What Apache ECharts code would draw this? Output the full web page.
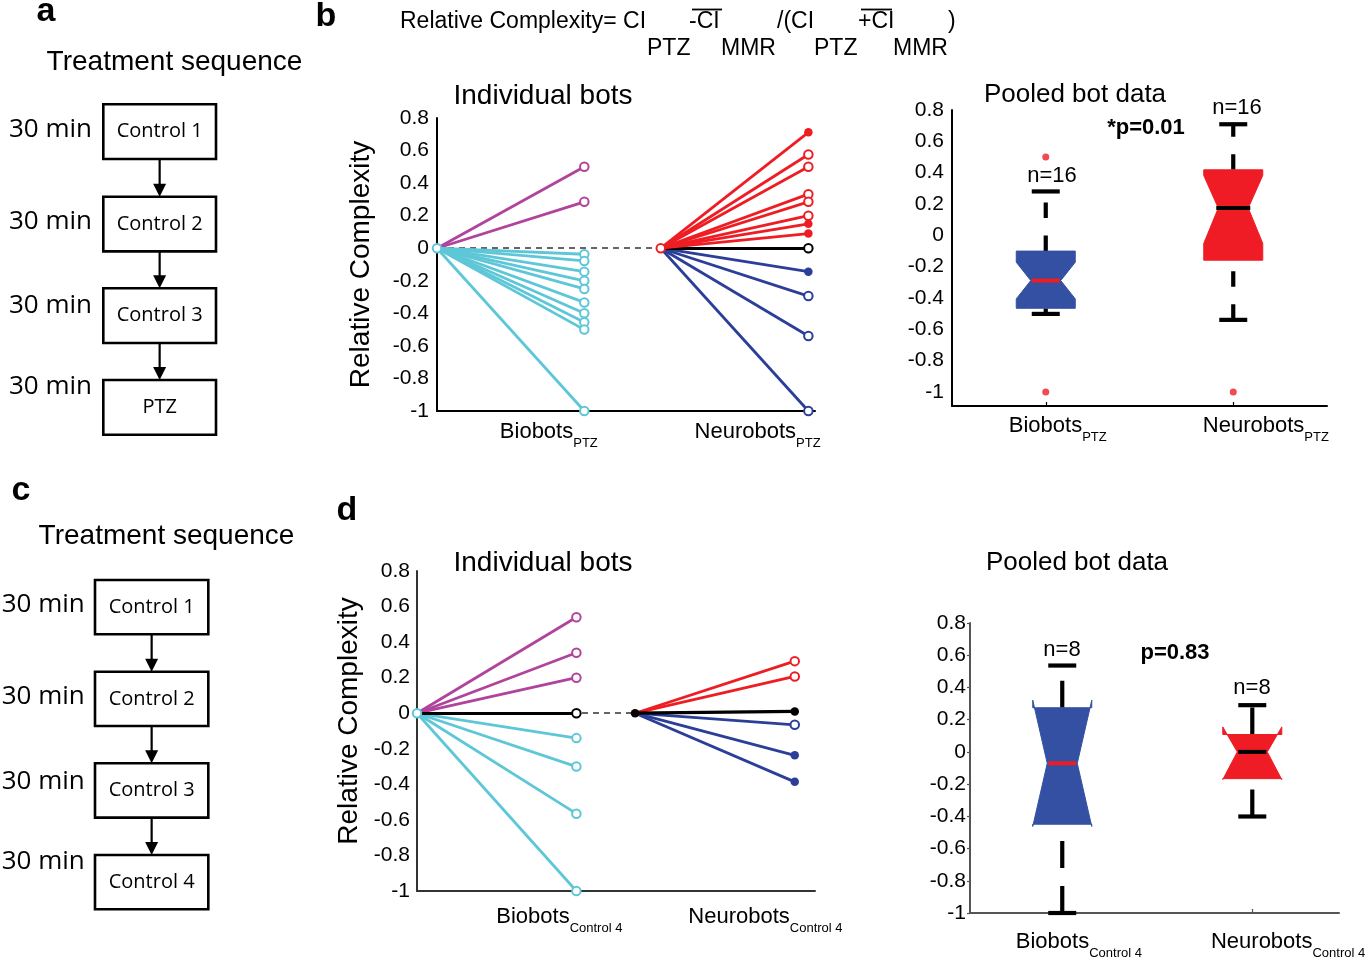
<!DOCTYPE html>
<html><head><meta charset="utf-8">
<script src="https://cdn.jsdelivr.net/npm/echarts@6/dist/echarts.min.js"></script>
<style>html,body{margin:0;padding:0;background:#fff;} #c{width:1369px;height:960px;}</style>
</head><body><div id="c"></div>
<script>
// ================= DATA =================
const botGroups = ['Biobots', 'Neurobots'];
const conditionB = 'PTZ';
const conditionD = 'Control 4';
const yTickValues = [-1, -0.8, -0.6, -0.4, -0.2, 0, 0.2, 0.4, 0.6, 0.8];

// Panel b – individual bots (PTZ)
const bBioPurple = [0.5, 0.285];
const bBioCyan = [-0.037, -0.078, -0.144, -0.2, -0.25, -0.333, -0.4, -0.455, -0.5, -1.0];
const bNeuroRedOpen = [0.576, 0.5, 0.332, 0.285, 0.2];
const bNeuroRedFilled = [0.712, 0.15, 0.09];
const bNeuroBlackOpen = [0];
const bNeuroBlueOpen = [-0.294, -0.539, -1.0];
const bNeuroBlueFilled = [-0.144];

// Panel d – individual bots (Control 4)
const dBioPurple = [0.54, 0.34, 0.2];
const dBioBlack = [0];
const dBioCyan = [-0.14, -0.3, -0.565, -1.0];
const dNeuroRedOpen = [0.293, 0.207];
const dNeuroBlackFilled = [0.01];
const dNeuroBlueOpen = [-0.065];
const dNeuroBlueFilled = [-0.237, -0.386];

// Pooled box data: [q1, notchLow, median, notchHigh, q3, whiskerLow, whiskerHigh]
const bPooledBio   = [-0.466, -0.406, -0.289, -0.172, -0.101, -0.502, 0.28];
const bPooledNeuro = [-0.159, -0.052, 0.174, 0.382, 0.418, -0.540, 0.709];
const bOutliersBio = [0.5, -1.0];
const bOutliersNeuro = [-1.0];
const dPooledBio   = [-0.449, -0.463, -0.071, 0.321, 0.274, -1.0, 0.536];
const dPooledNeuro = [-0.166, -0.172, 0, 0.155, 0.108, -0.401, 0.29];
const nB = [16, 16];
const nD = [8, 8];
const pB = '*p=0.01';
const pD = 'p=0.83';

// Flowchart content
const seqA = ['Control 1', 'Control 2', 'Control 3', 'PTZ'];
const seqC = ['Control 1', 'Control 2', 'Control 3', 'Control 4'];
const stepDuration = '30 min';

// ================= STYLE / LAYOUT =================
const FONT = "'Liberation Sans', Arial, sans-serif";
const BOXFONT = "'Open Sans', sans-serif";
const COL = {purple: '#b0449d', cyan: '#5ec7d7', red: '#ee1d24', navy: '#2b3e98',
             black: '#000', boxBlue: '#3450a2', boxRed: '#ef1c25'};

// x geometry of individual panels
const IB = {bioEnd: 1, neuroStart: 1.519, neuroEnd: 2.521, max: 2.566, labelAt: [0.759, 2.176]};
const ID = {bioEnd: 1, neuroStart: 1.368, neuroEnd: 2.37, max: 2.497, labelAt: [0.893, 2.186]};
const PB = {pos: [0.25, 0.75], labelAt: [0.282, 0.837]};
const PD = {pos: [0.25, 0.765], labelAt: [0.295, 0.862]};

const chart = echarts.init(document.getElementById('c'));

function catLabel(labelAt, cond, margin) {
  return {
    show: true, margin: margin, customValues: labelAt,
    formatter: function (v) {
      let idx = 0, best = 1e9;
      labelAt.forEach(function (p, i) { if (Math.abs(p - v) < best) { best = Math.abs(p - v); idx = i; } });
      return '{m|' + botGroups[idx] + '}{s|' + cond + '}';
    },
    rich: {
      m: {fontSize: 22, fontFamily: FONT, color: '#000', lineHeight: 22, verticalAlign: 'top'},
      s: {fontSize: 13, fontFamily: FONT, color: '#000', lineHeight: 29, verticalAlign: 'bottom'}
    }
  };
}
function yLabel(margin, size) {
  return {show: true, margin: margin, fontSize: size, fontFamily: FONT, color: '#000'};
}

function segs(gi, x0, y0, x1, vals, color, width, z) {
  return {type: 'lines', coordinateSystem: 'cartesian2d', xAxisIndex: gi, yAxisIndex: gi,
    silent: true, z: z || 2, polyline: false,
    lineStyle: {color: color, width: width || 2.8, opacity: 1},
    data: vals.map(function (v) { return {coords: [[x0, y0], [x1, v]]}; })};
}
function dashed(gi, x0, x1) {
  return {type: 'lines', coordinateSystem: 'cartesian2d', xAxisIndex: gi, yAxisIndex: gi,
    silent: true, z: 1, lineStyle: {color: '#333', width: 1.6, opacity: 1, type: [6, 5]},
    data: [{coords: [[x0, 0], [x1, 0]]}]};
}
function pts(gi, x, vals, color, filled, z) {
  return {type: 'scatter', xAxisIndex: gi, yAxisIndex: gi, silent: true, z: z || 4,
    symbol: filled ? 'circle' : 'emptyCircle', symbolSize: filled ? 8.5 : 8.5,
    itemStyle: {color: color, borderColor: color, borderWidth: filled ? 0 : 1.7, opacity: 1},
    data: vals.map(function (v) { return [x, v]; })};
}
function box(gi, x, vals, fill, medColor, dash, medHalf) {
  return {
    type: 'custom', xAxisIndex: gi, yAxisIndex: gi, silent: true, z: 3,
    data: [[x].concat(vals)],
    renderItem: function (params, api) {
      const xv = api.value(0);
      const P = function (i) { return api.coord([xv, api.value(i)]); };
      const cx = P(1)[0];
      const yQ1 = P(1)[1], yNL = P(2)[1], yMed = P(3)[1], yNH = P(4)[1], yQ3 = P(5)[1],
            yWL = P(6)[1], yWH = P(7)[1];
      const w = 29.5, nw = 15, cap = 14;
      const poly = [[cx - w, yQ1], [cx - w, yNL], [cx - nw, yMed], [cx - w, yNH], [cx - w, yQ3],
                    [cx + w, yQ3], [cx + w, yNH], [cx + nw, yMed], [cx + w, yNL], [cx + w, yQ1]];
      const ws = {stroke: '#000', lineWidth: 4.2, lineDash: dash, lineCap: 'butt'};
      return {type: 'group', children: [
        {type: 'line', shape: {x1: cx, y1: yWL, x2: cx, y2: yQ1}, style: ws},
        {type: 'line', shape: {x1: cx, y1: yQ3, x2: cx, y2: yWH}, style: ws},
        {type: 'line', shape: {x1: cx - cap, y1: yWL, x2: cx + cap, y2: yWL}, style: {stroke: '#000', lineWidth: 4.2}},
        {type: 'line', shape: {x1: cx - cap, y1: yWH, x2: cx + cap, y2: yWH}, style: {stroke: '#000', lineWidth: 4.2}},
        {type: 'polygon', shape: {points: poly}, style: {fill: fill, stroke: fill, lineWidth: 1, lineJoin: 'round'}},
        {type: 'line', shape: {x1: cx - medHalf, y1: yMed, x2: cx + medHalf, y2: yMed}, style: {stroke: medColor, lineWidth: 4}}
      ]};
    }
  };
}
function outliers(gi, x, vals) {
  return {type: 'scatter', xAxisIndex: gi, yAxisIndex: gi, silent: true, z: 5, symbol: 'circle',
    symbolSize: 7, itemStyle: {color: COL.red}, data: vals.map(function (v) { return [x, v]; })};
}

// ---------- graphics (flowcharts + annotations) ----------
const G = [];
function txt(x, y, text, font, align, fill) {
  G.push({type: 'text', x: x, y: y, silent: true,
    style: {text: text, font: font, fill: fill || '#000', align: align || 'left', verticalAlign: 'middle'}});
}
function flow(bx, bw, tops, bh, labels, minX, minYs, title, tx, ty) {
  txt(tx, ty, title, '28px ' + FONT, 'center');
  const cx = bx + bw / 2;
  tops.forEach(function (top, i) {
    G.push({type: 'rect', silent: true, shape: {x: bx, y: top, width: bw, height: bh},
      style: {fill: '#fff', stroke: '#000', lineWidth: 2.6}});
    txt(cx, top + bh / 2, labels[i], '20px ' + BOXFONT, 'center');
    txt(minX, minYs[i], stepDuration, '26px ' + BOXFONT, 'left');
    if (i < tops.length - 1) {
      const y0 = top + bh, y1 = tops[i + 1];
      G.push({type: 'line', silent: true, shape: {x1: cx, y1: y0, x2: cx, y2: y1 - 11},
        style: {stroke: '#000', lineWidth: 2.2}});
      G.push({type: 'polygon', silent: true,
        shape: {points: [[cx - 6.5, y1 - 13], [cx + 6.5, y1 - 13], [cx, y1]]}, style: {fill: '#000'}});
    }
  });
}
flow(103.3, 112.7, [104.3, 196.7, 288.3, 380], 54.7, seqA, 9, [130, 221.7, 306, 386.7],
     'Treatment sequence', 174.5, 62);
flow(95, 113.3, [580, 671.7, 763.3, 855], 54.3, seqC, 1.7, [605, 696.7, 781.7, 861.7],
     'Treatment sequence', 166.5, 536.7);

// panel letters
txt(46, 12, 'a', 'bold 34px ' + FONT, 'center');
txt(326, 17, 'b', 'bold 34px ' + FONT, 'center');
txt(21, 491, 'c', 'bold 34px ' + FONT, 'center');
txt(347, 511, 'd', 'bold 34px ' + FONT, 'center');

// formula
const F = '23px ' + FONT;
txt(400, 22, 'Relative Complexity= CI', F);
txt(689, 22, '-CI', F);
txt(777, 22, '/(CI', F);
txt(858, 22, '+CI', F);
txt(948, 22, ')', F);
txt(647, 49, 'PTZ', F); txt(721, 49, 'MMR', F); txt(814, 49, 'PTZ', F); txt(893, 49, 'MMR', F);
G.push({type: 'line', silent: true, shape: {x1: 692, y1: 9.5, x2: 722, y2: 9.5}, style: {stroke: '#000', lineWidth: 1.8}});
G.push({type: 'line', silent: true, shape: {x1: 861, y1: 9.5, x2: 892, y2: 9.5}, style: {stroke: '#000', lineWidth: 1.8}});

// panel titles
txt(543, 96, 'Individual bots', '28px ' + FONT, 'center');
txt(1075, 95, 'Pooled bot data', '26px ' + FONT, 'center');
txt(543, 563, 'Individual bots', '28px ' + FONT, 'center');
txt(1077, 563, 'Pooled bot data', '26px ' + FONT, 'center');

// n / p annotations
txt(1052, 176, 'n=' + nB[0], '22px ' + FONT, 'center');
txt(1237, 108, 'n=' + nB[1], '22px ' + FONT, 'center');
txt(1146, 128, pB, 'bold 22px ' + FONT, 'center');
txt(1062, 650, 'n=' + nD[0], '22px ' + FONT, 'center');
txt(1252, 688, 'n=' + nD[1], '22px ' + FONT, 'center');
txt(1175, 653, pD, 'bold 22px ' + FONT, 'center');

// ================= OPTION =================
const axisLine = {show: true, onZero: false, lineStyle: {color: '#000', width: 2}};
const option = {
  animation: false,
  backgroundColor: '#fff',
  textStyle: {fontFamily: FONT},
  grid: [
    {left: 437, top: 118, width: 378, height: 293},
    {left: 952, top: 110, width: 375, height: 296},
    {left: 417, top: 571, width: 398, height: 320},
    {left: 970, top: 623, width: 369, height: 291}
  ],
  xAxis: [
    {type: 'value', gridIndex: 0, min: 0, max: IB.max, axisLine: axisLine, axisTick: {show: false},
     splitLine: {show: false}, axisLabel: catLabel(IB.labelAt, conditionB, 10)},
    {type: 'value', gridIndex: 1, min: 0, max: 1, axisLine: axisLine,
     axisTick: {show: true, inside: true, length: 4, customValues: PB.pos, lineStyle: {color: '#000', width: 1.2}},
     splitLine: {show: false}, axisLabel: catLabel(PB.labelAt, conditionB, 9)},
    {type: 'value', gridIndex: 2, min: 0, max: ID.max, axisLine: {show: true, onZero: false, lineStyle: {color: '#333', width: 2}},
     axisTick: {show: false}, splitLine: {show: false}, axisLabel: catLabel(ID.labelAt, conditionD, 15)},
    {type: 'value', gridIndex: 3, min: 0, max: 1, axisLine: {show: true, onZero: false, lineStyle: {color: '#555', width: 2}},
     axisTick: {show: true, inside: true, length: 4, customValues: PD.pos, lineStyle: {color: '#555', width: 1.2}},
     splitLine: {show: false}, axisLabel: catLabel(PD.labelAt, conditionD, 18)}
  ],
  yAxis: [
    {type: 'value', gridIndex: 0, min: -1, max: 0.8, interval: 0.2, axisLine: axisLine, axisTick: {show: false},
     splitLine: {show: false}, axisLabel: yLabel(8, 21),
     name: 'Relative Complexity', nameLocation: 'middle', nameGap: 62,
     nameTextStyle: {fontSize: 28, fontFamily: FONT, color: '#000'}},
    {type: 'value', gridIndex: 1, min: -1.09, max: 0.8, axisLine: axisLine, axisTick: {show: false},
     splitLine: {show: false}, axisLabel: Object.assign(yLabel(8, 21), {customValues: yTickValues})},
    {type: 'value', gridIndex: 2, min: -1, max: 0.8, interval: 0.2,
     axisLine: {show: true, onZero: false, lineStyle: {color: '#333', width: 2}}, axisTick: {show: false},
     splitLine: {show: false}, axisLabel: yLabel(7, 21),
     name: 'Relative Complexity', nameLocation: 'middle', nameGap: 54,
     nameTextStyle: {fontSize: 28, fontFamily: FONT, color: '#000', padding: [0, 0, 0, 20]}},
    {type: 'value', gridIndex: 3, min: -1, max: 0.8, interval: 0.2,
     axisLine: {show: true, onZero: false, lineStyle: {color: '#555', width: 2}},
     axisTick: {show: true, length: 3, lineStyle: {color: '#555', width: 1.2}},
     splitLine: {show: false}, axisLabel: yLabel(4, 21)}
  ],
  graphic: G,
  series: [
    // ---- panel b individual ----
    dashed(0, 0, IB.neuroStart),
    segs(0, 0, 0, IB.bioEnd, bBioPurple, COL.purple),
    segs(0, 0, 0, IB.bioEnd, bBioCyan, COL.cyan),
    segs(0, IB.neuroStart, 0, IB.neuroEnd, bNeuroBlueOpen.concat(bNeuroBlueFilled), COL.navy),
    segs(0, IB.neuroStart, 0, IB.neuroEnd, bNeuroBlackOpen, COL.black),
    segs(0, IB.neuroStart, 0, IB.neuroEnd, bNeuroRedOpen.concat(bNeuroRedFilled), COL.red),
    pts(0, IB.bioEnd, bBioPurple, COL.purple, false),
    pts(0, IB.bioEnd, bBioCyan, COL.cyan, false),
    pts(0, IB.neuroEnd, bNeuroRedOpen, COL.red, false),
    pts(0, IB.neuroEnd, bNeuroRedFilled, COL.red, true),
    pts(0, IB.neuroEnd, bNeuroBlackOpen, COL.black, false),
    pts(0, IB.neuroEnd, bNeuroBlueOpen, COL.navy, false),
    pts(0, IB.neuroEnd, bNeuroBlueFilled, COL.navy, true),
    pts(0, 0, [0], COL.cyan, false, 6),
    pts(0, IB.neuroStart, [0], COL.red, false, 6),
    // ---- panel b pooled ----
    box(1, PB.pos[0], bPooledBio, COL.boxBlue, COL.red, [15.5, 17.5], 14),
    box(1, PB.pos[1], bPooledNeuro, COL.boxRed, '#000', [15.5, 17.5], 17),
    outliers(1, PB.pos[0], bOutliersBio),
    outliers(1, PB.pos[1], bOutliersNeuro),
    // ---- panel d individual ----
    dashed(2, 0, ID.neuroStart),
    segs(2, 0, 0, ID.bioEnd, dBioPurple, COL.purple),
    segs(2, 0, 0, ID.bioEnd, dBioCyan, COL.cyan),
    segs(2, 0, 0, ID.bioEnd, dBioBlack, COL.black),
    segs(2, ID.neuroStart, 0, ID.neuroEnd, dNeuroBlueOpen.concat(dNeuroBlueFilled), COL.navy),
    segs(2, ID.neuroStart, 0, ID.neuroEnd, dNeuroRedOpen, COL.red),
    segs(2, ID.neuroStart, 0, ID.neuroEnd, dNeuroBlackFilled, COL.black, 3.2),
    pts(2, ID.bioEnd, dBioPurple, COL.purple, false),
    pts(2, ID.bioEnd, dBioCyan, COL.cyan, false),
    pts(2, ID.bioEnd, dBioBlack, COL.black, false),
    pts(2, ID.neuroEnd, dNeuroRedOpen, COL.red, false),
    pts(2, ID.neuroEnd, dNeuroBlackFilled, COL.black, true),
    pts(2, ID.neuroEnd, dNeuroBlueOpen, COL.navy, false),
    pts(2, ID.neuroEnd, dNeuroBlueFilled, COL.navy, true),
    pts(2, 0, [0], COL.cyan, false, 6),
    pts(2, ID.neuroStart, [0], COL.black, true, 6),
    // ---- panel d pooled ----
    box(3, PD.pos[0], dPooledBio, COL.boxBlue, COL.red, [27, 18], 14),
    box(3, PD.pos[1], dPooledNeuro, COL.boxRed, '#000', [27, 18], 14)
  ]
};
chart.setOption(option);
</script>
</body></html>
